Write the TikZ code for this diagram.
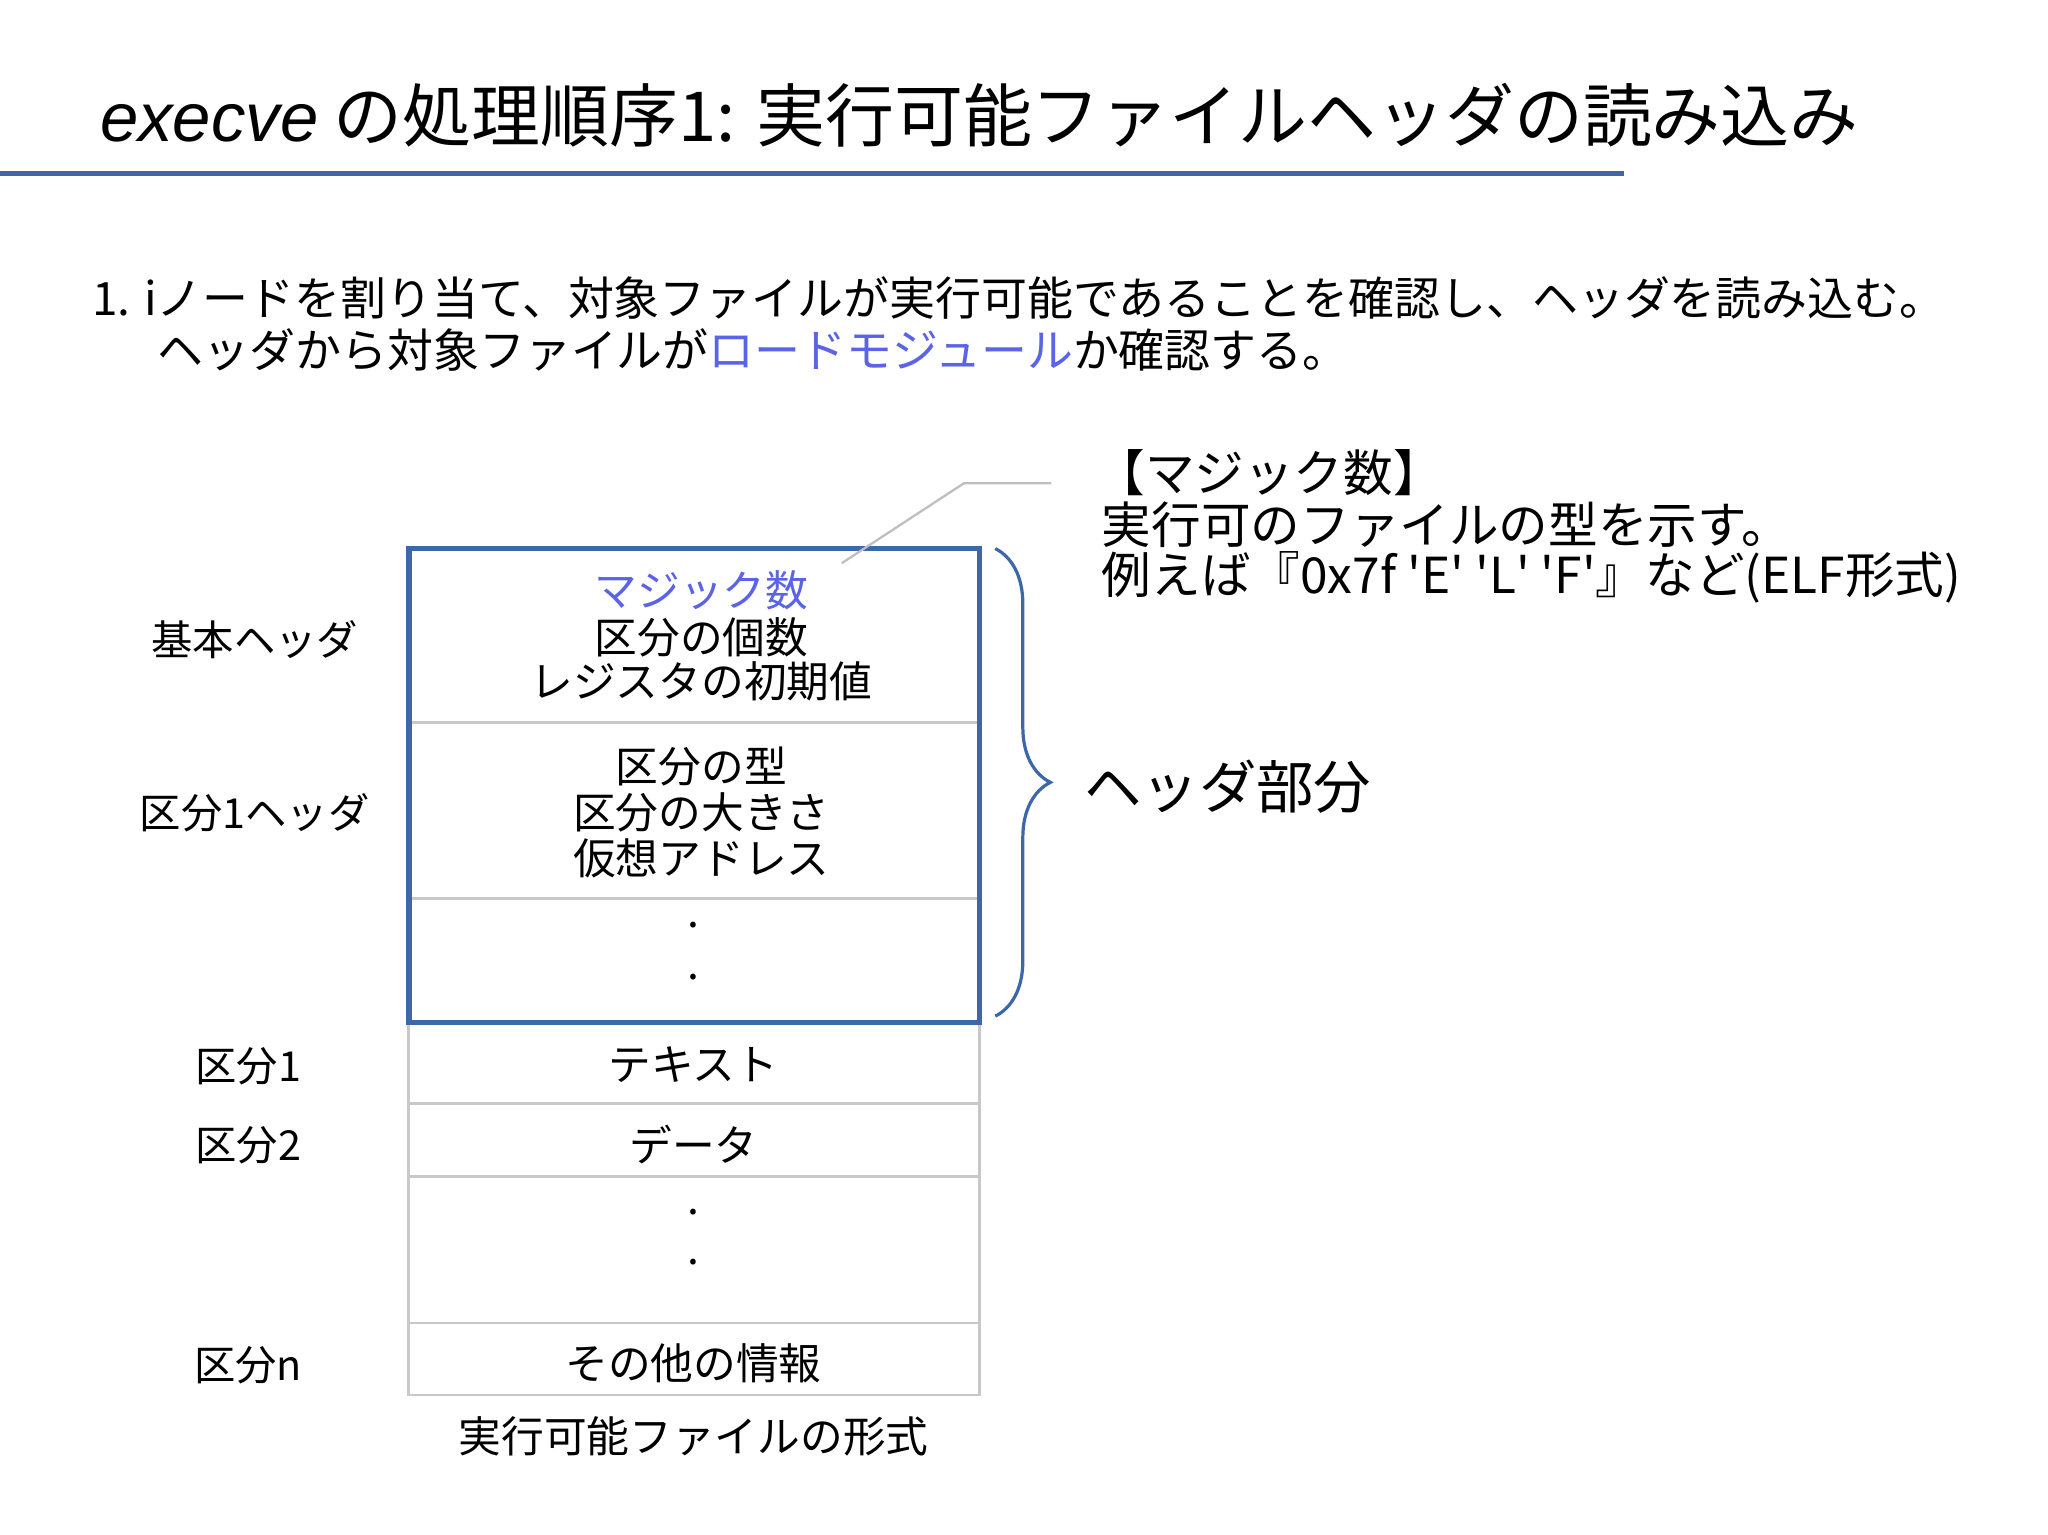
\documentclass[tikz,border=0pt]{standalone}
\usepackage{fontspec}
\setmainfont{Noto Sans CJK JP}
\newfontfamily\lat{Liberation Sans}
\usetikzlibrary{decorations.pathreplacing}
\definecolor{tblue}{HTML}{3C68A8}
\definecolor{lblue}{HTML}{5B63E6}
\definecolor{cellgray}{HTML}{C8C8C8}
\tikzset{
  cell/.style={draw=cellgray,line width=0.6pt},
  ctext/.style={font=\fontsize{9.3}{10}\selectfont,inner sep=0pt},
  ltext/.style={font=\fontsize{9}{10}\selectfont,inner sep=0pt},
  btext/.style={font=\fontsize{10}{11}\selectfont,inner sep=0pt,anchor=west},
  atext/.style={font=\fontsize{10.8}{12}\selectfont,inner sep=0pt,anchor=west},
}
\begin{document}
\begin{tikzpicture}[x=0.01cm,y=-0.01cm]
\useasboundingbox[fill=white] (0,0) rectangle (1568,1175);
\node[anchor=west,inner sep=0pt,font=\fontsize{15}{17}\selectfont] (title) at (76,88) {{\lat\itshape execve} の処理順序1: 実行可能ファイルヘッダの読み込み};
\coordinate (l1) at (0,133); \coordinate (l2) at (1243,133);
\draw[tblue,line width=1.2pt] (l1) -- (l2);
\node[btext] (t1) at (70,228) {1. iノードを割り当て、対象ファイルが実行可能であることを確認し、ヘッダを読み込む。};
\node[btext] (t2) at (120,268) {ヘッダから対象ファイルが\textcolor{lblue}{ロードモジュール}か確認する。};
\draw[cell] (313,420) rectangle (750,553);
\draw[cell] (313,553) rectangle (750,688);
\draw[cell] (313,688) rectangle (750,783);
\draw[cell] (313,783) rectangle (750,845);
\draw[cell] (313,845) rectangle (750,901);
\draw[cell] (313,901) rectangle (750,1013);
\draw[cell] (313,1013) rectangle (750,1068);
\draw[tblue,line width=1.2pt] (313,420) rectangle (750,783);
\node[ctext,text=lblue] (m) at (537,452) {マジック数};
\node[ctext] at (537,488) {区分の個数};
\node[ctext] at (537,522) {レジスタの初期値};
\node[ctext] at (537,587) {区分の型};
\node[ctext] at (537,622) {区分の大きさ};
\node[ctext] at (537,657) {仮想アドレス};
\node[ctext] at (531,708) {.};
\node[ctext] at (531,748) {.};
\node[ctext] at (531,815) {テキスト};
\node[ctext] at (531,876) {データ};
\node[ctext] at (531,928) {.};
\node[ctext] at (531,966) {.};
\node[ctext] at (531,1044) {その他の情報};
\node[ctext] at (531,1100) {実行可能ファイルの形式};
\node[ltext] at (195,490) {基本ヘッダ};
\node[ltext] at (195,622) {区分1ヘッダ};
\node[ltext] at (190,816) {区分1};
\node[ltext] at (190,877) {区分2};
\node[ltext] at (190,1045) {区分n};
\coordinate (b1) at (762,420); \coordinate (b2) at (762,778);
\draw[tblue,line width=0.7pt,decorate,decoration={brace,amplitude=12pt}] (b1) -- (b2);
\node[inner sep=0pt,font=\fontsize{12.5}{14}\selectfont] (hb) at (940,602) {ヘッダ部分};
\coordinate (c1) at (738,370); \coordinate (c2) at (805,370);
\draw[gray!50,line width=0.5pt] (m.north east) ++(25,-5) coordinate (c0) -- (c1) -- (c2);
\node[atext] at (838,362) {【マジック数】};
\node[atext] at (843,402) {実行可のファイルの型を示す。};
\node[atext] at (843,442) {例えば『0x7f \textquotesingle E\textquotesingle\ \textquotesingle L\textquotesingle\ \textquotesingle F\textquotesingle』など(ELF形式)};
\end{tikzpicture}
\end{document}
